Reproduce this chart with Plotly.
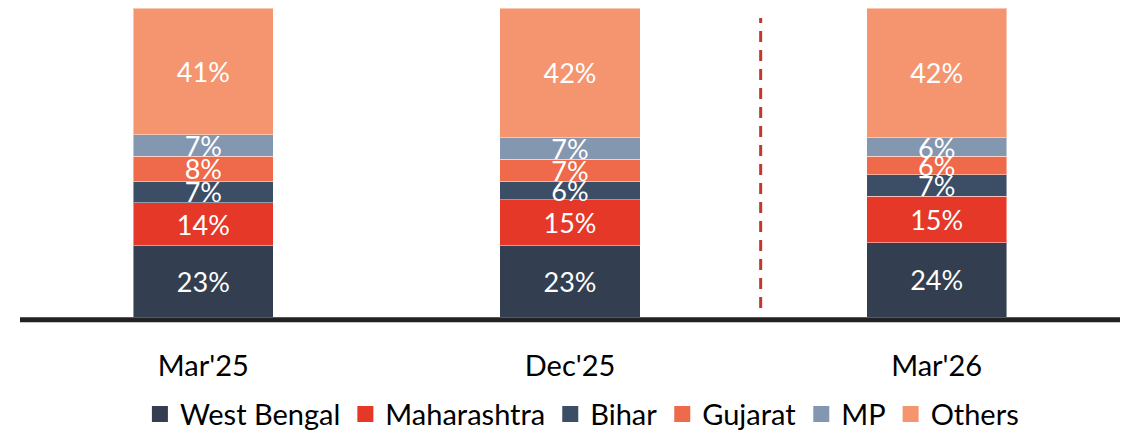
import plotly.graph_objects as go

categories = ["Mar'25", "Dec'25", "Mar'26"]
series_names = ["West Bengal", "Maharashtra", "Bihar", "Gujarat", "MP", "Others"]
west_bengal = [23, 23, 24]
maharashtra = [14, 15, 15]
bihar = [7, 6, 7]
gujarat = [8, 7, 6]
mp = [7, 7, 6]
others = [41, 42, 42]
series_values = [west_bengal, maharashtra, bihar, gujarat, mp, others]
colors = ["#333F50", "#E53828", "#3C4D66", "#EE6A4B", "#8497B0", "#F4956F"]

FONT = "Lato"
FS = 27
FS_AXIS = 29

fig = go.Figure()
for name, vals, col in zip(series_names, series_values, colors):
    fig.add_trace(go.Bar(
        x=categories, y=vals, name=name, showlegend=False,
        marker=dict(color=col, line=dict(color="rgba(255,255,255,0.45)", width=1)),
        width=0.382,
        text=[f"{v}%" for v in vals],
        textposition="inside", insidetextanchor="middle", textangle=0,
        constraintext="none",
        insidetextfont=dict(color="white", size=FS, family=FONT),
        cliponaxis=False,
    ))
# legend entries with larger square swatches
for name, col in zip(series_names, colors):
    fig.add_trace(go.Scatter(
        x=[None], y=[None], mode="markers", name=name,
        marker=dict(symbol="square", size=19, color=col),
        showlegend=True,
    ))

fig.update_layout(
    barmode="stack",
    width=1129, height=432,
    margin=dict(l=12, r=17, t=0, b=123, autoexpand=False),
    plot_bgcolor="white", paper_bgcolor="white",
    font=dict(family=FONT, color="black", size=FS),
    showlegend=True,
    legend=dict(orientation="h", x=0.109, xanchor="left",
                yref="container", y=0.06, yanchor="middle",
                font=dict(size=FS_AXIS, family=FONT), traceorder="normal",
                itemwidth=30, tracegroupgap=0),
    xaxis=dict(range=[-0.5, 2.5], showgrid=False, showline=False, zeroline=False,
               ticks="", ticklabelstandoff=29, tickfont=dict(size=FS_AXIS, family=FONT)),
    yaxis=dict(range=[0, 100], visible=False, fixedrange=True),
)

fig.add_shape(type="line", xref="paper", yref="paper", x0=0, x1=1, y0=-0.009, y1=-0.009,
              line=dict(color="#222222", width=5))
fig.add_shape(type="line", xref="x", yref="y", x0=1.52, x1=1.52, y0=2.9, y1=96.8,
              line=dict(color="#C0392B", width=3, dash="11px,8px"))

fig.write_html("out.html")
